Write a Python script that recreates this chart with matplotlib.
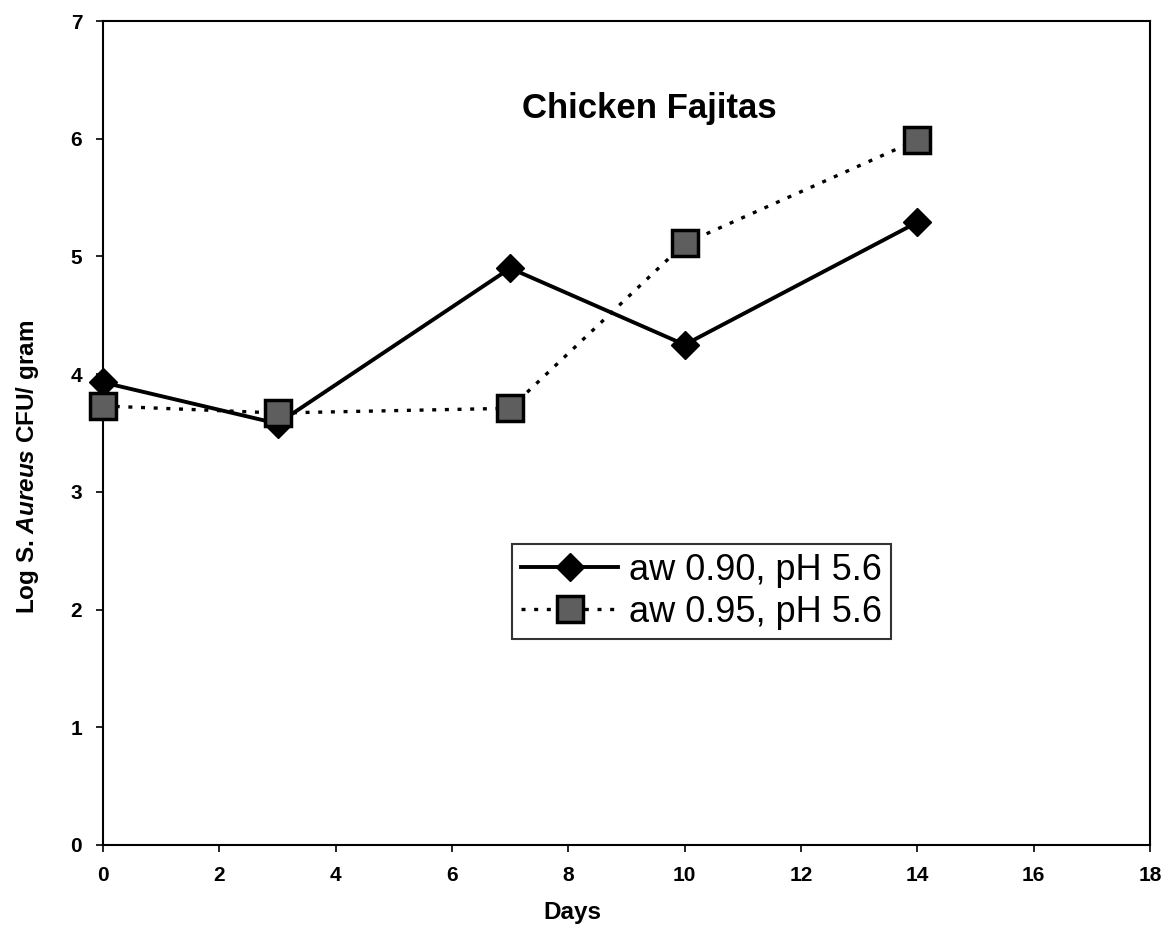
import matplotlib.pyplot as plt

plt.rcParams['font.family'] = ['Liberation Sans', 'DejaVu Sans']
plt.rcParams['mathtext.fontset'] = 'custom'
plt.rcParams['mathtext.it'] = 'Liberation Sans:italic:bold'

# values
days = [0, 3, 7, 10, 14]
aw090 = [3.93, 3.58, 4.90, 4.25, 5.29]
aw095 = [3.73, 3.67, 3.71, 5.11, 5.99]
labels = ['aw 0.90, pH 5.6', 'aw 0.95, pH 5.6']

fig = plt.figure(figsize=(11.71, 9.30), dpi=100)
ax = fig.add_axes([0.088, 0.0914, 0.894, 0.886])

ax.plot(days, aw090, '-', color='black', lw=2.8, marker='D', ms=14,
        mfc='black', mec='black', label=labels[0], clip_on=False, zorder=3)
ax.plot(days, aw095, color='black', lw=2.4, ls=(0, (1.2, 2.6)), marker='s', ms=19,
        mfc='#5e5e5e', mec='black', mew=2.5, label=labels[1], clip_on=False, zorder=4)

ax.set_xlim(0, 18)
ax.set_ylim(0, 7)
ax.set_xticks(range(0, 19, 2))
ax.set_yticks(range(0, 8))
ax.tick_params(direction='out', length=5, width=1.2, labelsize=15, pad=10)
for t in ax.get_xticklabels() + ax.get_yticklabels():
    t.set_fontweight('bold')
for s in ax.spines.values():
    s.set_linewidth(1.5)

ax.text(9.4, 6.26, 'Chicken Fajitas', ha='center', va='center',
        fontsize=25, fontweight='bold')

leg = ax.legend(loc='upper left', bbox_to_anchor=(7.03, 2.56),
                bbox_transform=ax.transData, fontsize=26, frameon=True,
                fancybox=False, edgecolor='black', handlelength=2.7,
                handletextpad=0.3, borderpad=0.25, labelspacing=0.2,
                borderaxespad=0)
leg.get_frame().set_linewidth(1.5)

fig.text(28 / 1171, 1 - 467 / 930, r'Log S. $\mathit{Aureus}$ CFU/ gram',
         rotation=90, ha='center', va='center', fontsize=17.5, fontweight='bold')
fig.text(572 / 1171, 1 - 912 / 930, 'Days', ha='center', va='center',
         fontsize=17.5, fontweight='bold')

fig.savefig('out.png', dpi=100)
